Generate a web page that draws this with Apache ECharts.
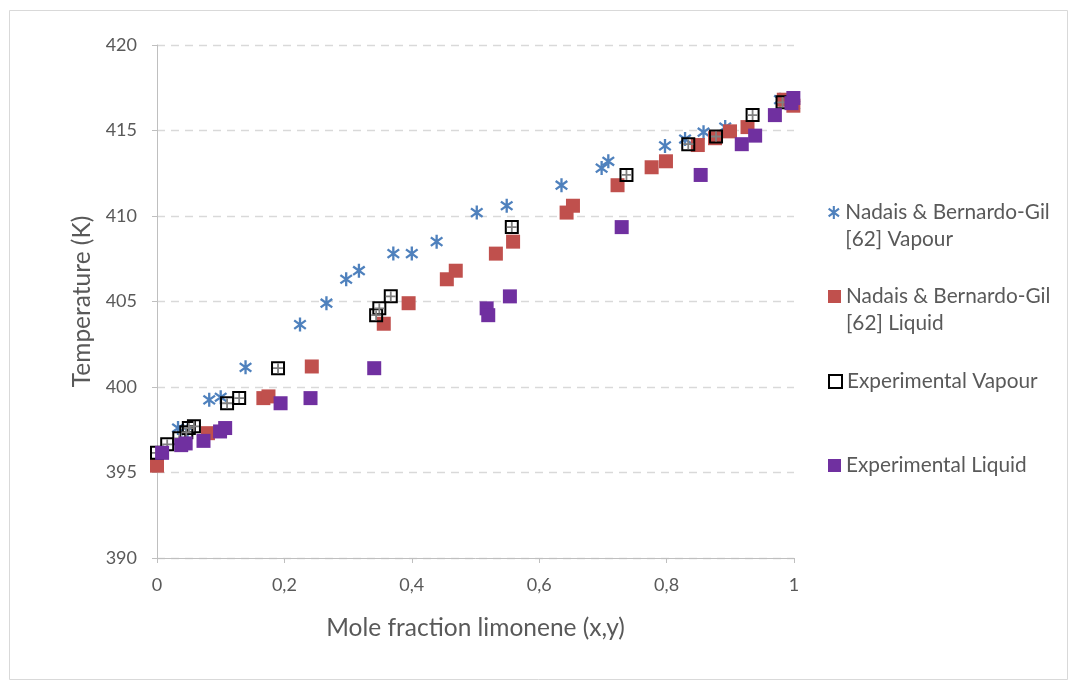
<!DOCTYPE html>
<html>
<head>
<meta charset="utf-8">
<script src="https://cdn.jsdelivr.net/npm/echarts@6/dist/echarts.min.js"></script>
<style>
  html, body { margin: 0; padding: 0; background: #ffffff; }
  #chart { width: 1076px; height: 688px; }
</style>
</head>
<body>
<div id="chart"></div>
<script>
// Vapour–liquid equilibrium of limonene: [mole fraction, temperature in K]
const nadaisVapour = [
  [0.033, 397.6], [0.048, 397.45], [0.082, 399.25], [0.100, 399.4], [0.139, 401.15],
  [0.2245, 403.65], [0.266, 404.9], [0.297, 406.3], [0.317, 406.8], [0.371, 407.8],
  [0.400, 407.8], [0.439, 408.5], [0.502, 410.2], [0.549, 410.6], [0.635, 411.8],
  [0.698, 412.8], [0.7085, 413.2], [0.7975, 414.1], [0.829, 414.5], [0.858, 414.9],
  [0.892, 415.2], [0.978, 416.8], [1.0, 416.5]
];
const nadaisLiquid = [
  [0.0, 395.4], [0.08, 397.3], [0.167, 399.35], [0.175, 399.45], [0.243, 401.2],
  [0.356, 403.7], [0.395, 404.9], [0.455, 406.3], [0.469, 406.8], [0.532, 407.8],
  [0.559, 408.5], [0.643, 410.2], [0.653, 410.6], [0.723, 411.8], [0.7765, 412.85],
  [0.799, 413.2], [0.849, 414.15], [0.876, 414.55], [0.8995, 414.95], [0.927, 415.2],
  [0.984, 416.8], [0.999, 416.45]
];
const expVapour = [
  [0.0, 396.15], [0.016, 396.65], [0.035, 397.0], [0.046, 397.35], [0.05, 397.6],
  [0.058, 397.7], [0.11, 399.05], [0.129, 399.35], [0.19, 401.1], [0.344, 404.2],
  [0.349, 404.6], [0.367, 405.3], [0.557, 409.35], [0.737, 412.4], [0.834, 414.2],
  [0.8776, 414.65], [0.935, 415.9], [0.982, 416.65]
];
const expLiquid = [
  [0.008, 396.15], [0.038, 396.6], [0.045, 396.7], [0.073, 396.85], [0.099, 397.4],
  [0.107, 397.6], [0.194, 399.05], [0.241, 399.35], [0.341, 401.1], [0.5175, 404.6],
  [0.520, 404.2], [0.554, 405.3], [0.7295, 409.35], [0.8535, 412.4], [0.918, 414.2],
  [0.939, 414.7], [0.970, 415.9], [0.996, 416.6], [0.999, 416.9]
];

const seriesNames = [
  'Nadais & Bernardo-Gil\n[62] Vapour',
  'Nadais & Bernardo-Gil\n[62] Liquid',
  'Experimental Vapour',
  'Experimental Liquid'
];
const xTicks = { min: 0, max: 1, step: 0.2 };
const yTicks = { min: 390, max: 420, step: 5 };
const xTitle = 'Mole fraction limonene (x,y)';
const yTitle = 'Temperature (K)';

// six-armed asterisk marker: one vertical bar and two diagonal bars
const asteriskPath = 'path://M4.2,0H5.8V10H4.2Z' +
  'M1.48,1.36L9.48,7.36L8.52,8.64L0.52,2.64Z' +
  'M0.52,7.36L8.52,1.36L9.48,2.64L1.48,8.64Z';
// cross drawn inside the hollow square markers
const crossPath = 'path://M4.1,0H5.9V10H4.1Z M0,4.1H10V5.9H0Z';

const FONT = 'Lato';
const TEXT = '#595959';

const chart = echarts.init(document.getElementById('chart'), null, { renderer: 'canvas' });

// one legend block per series; a blank leading line keeps the icon level with
// the first line of a two-line label
function legendAt(name, top, icon, itemStyle, twoLines) {
  return {
    data: [{ name: name, icon: icon, itemStyle: itemStyle }],
    left: 828,
    top: top,
    padding: 0,
    itemWidth: 13,
    itemHeight: 13,
    formatter: n => (twoLines ? '\u00a0\n' + n : n),
    textStyle: { fontFamily: FONT, fontSize: 20.8, color: TEXT, lineHeight: 27 }
  };
}

chart.setOption({
  animation: false,
  backgroundColor: '#ffffff',
  graphic: [{
    type: 'rect',
    shape: { x: 9.5, y: 10.5, width: 1058, height: 669 },
    style: { fill: 'none', stroke: '#d9d9d9', lineWidth: 1 },
    silent: true
  }],
  grid: { left: 157, right: 282, top: 45, bottom: 130 },
  legend: [
    legendAt(seriesNames[0], 172, asteriskPath, { color: '#4f81bd' }, true),
    legendAt(seriesNames[1], 256, 'rect', { color: '#c0504d' }, true),
    legendAt(seriesNames[2], 368, 'rect', { color: 'transparent', borderColor: '#000', borderWidth: 2 }, false),
    legendAt(seriesNames[3], 452, 'rect', { color: '#7030a0' }, false)
  ],
  xAxis: {
    type: 'value',
    min: xTicks.min, max: xTicks.max, interval: xTicks.step,
    name: xTitle, nameLocation: 'middle', nameGap: 58,
    nameTextStyle: { fontFamily: FONT, fontSize: 24.5, color: TEXT },
    axisLine: { show: true, lineStyle: { color: '#bfbfbf', width: 1 } },
    axisTick: { show: true, length: 5, lineStyle: { color: '#bfbfbf' } },
    splitLine: { show: false },
    axisLabel: {
      fontFamily: FONT, fontSize: 18, color: TEXT, margin: 18,
      formatter: v => String(Math.round(v * 10) / 10).replace('.', ',')
    }
  },
  yAxis: {
    type: 'value',
    min: yTicks.min, max: yTicks.max, interval: yTicks.step,
    name: yTitle, nameLocation: 'middle', nameGap: 60,
    nameTextStyle: { fontFamily: FONT, fontSize: 24.5, color: TEXT },
    axisLine: { show: true, lineStyle: { color: '#bfbfbf', width: 1 } },
    axisTick: { show: true, length: 5, lineStyle: { color: '#bfbfbf' } },
    splitLine: { show: true, lineStyle: { color: '#d9d9d9', type: [8, 6], width: 1.3 } },
    axisLabel: { fontFamily: FONT, fontSize: 18, color: TEXT, margin: 20 }
  },
  series: [
    {
      name: seriesNames[0], type: 'scatter', data: nadaisVapour,
      symbol: asteriskPath, symbolSize: [13, 14],
      itemStyle: { color: '#4f81bd', opacity: 1 }
    },
    {
      name: seriesNames[1], type: 'scatter', data: nadaisLiquid,
      symbol: 'rect', symbolSize: 14,
      itemStyle: { color: '#c0504d', opacity: 1 }
    },
    {
      name: seriesNames[2], type: 'scatter', data: expVapour,
      symbol: 'rect', symbolSize: 12,
      itemStyle: { color: 'rgba(0,0,0,0)', borderColor: '#000000', borderWidth: 2, opacity: 1 }
    },
    {
      name: seriesNames[2], type: 'scatter', data: expVapour,
      symbol: crossPath, symbolSize: 10, silent: true,
      itemStyle: { color: '#808080', opacity: 1 }
    },
    {
      name: seriesNames[3], type: 'scatter', data: expLiquid,
      symbol: 'rect', symbolSize: 14,
      itemStyle: { color: '#7030a0', opacity: 1 }
    }
  ]
});
</script>
</body>
</html>
